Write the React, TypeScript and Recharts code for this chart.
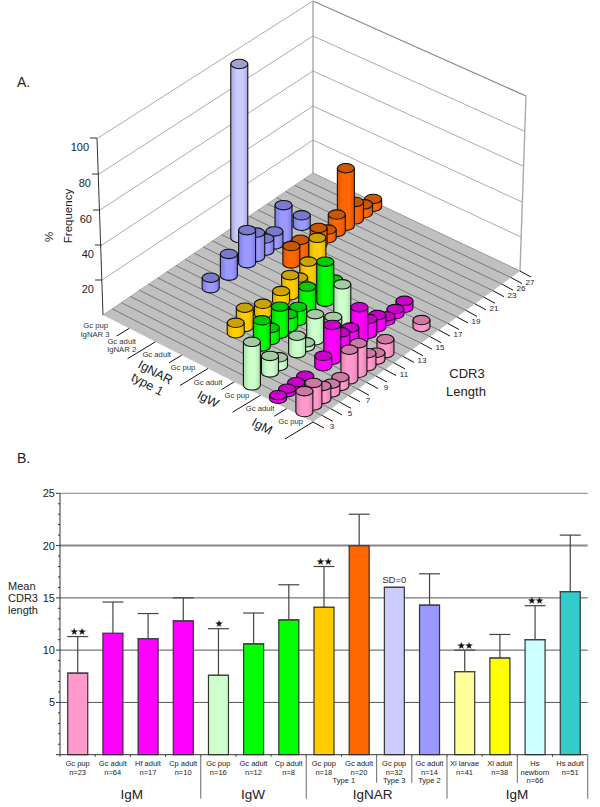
import React from "react";
import {
  ScatterChart, Scatter, ComposedChart, Bar, Cell, Line, ErrorBar,
  XAxis, YAxis, CartesianGrid,
} from "recharts";

// Panel A: CDR3 length distributions, one cdr/pct pair per row of the floor
const cdrCategories = [3, 4, 5, 6, 7, 8, 9, 10, 11, 12, 13, 14, 15, 16, 17, 18, 19, 20, 21, 22, 23, 26, 27];
const cdrTickLabels = ["3", "", "5", "", "7", "", "9", "", "11", "", "13", "", "15", "", "17", "", "19", "", "21", "", "23", "26", "27"];

const narPup3Cdr = [16];
const narPup3Pct = [100];
const nar2Cdr = [10, 12, 14, 15, 16, 17, 18, 20];
const nar2Pct = [6, 12.5, 19, 14, 7, 7.5, 19, 6];
const nar1AdultCdr = [16, 17, 19, 20, 21, 22, 23, 26, 27];
const nar1AdultPct = [10, 10, 9.5, 5, 10, 33, 10, 5, 4.5];
const nar1PupCdr = [7, 8, 10, 12, 13, 14, 15, 16];
const nar1PupPct = [6, 11, 6, 6, 11.5, 6.5, 12, 22];
const igwAdultCdr = [7, 8, 9, 10, 11, 12, 14, 15];
const igwAdultPct = [15, 7, 15.5, 7.5, 8, 16, 23, 9];
const igwPupCdr = [3, 5, 6, 8, 9, 10, 12, 13];
const igwPupPct = [25, 9.5, 5, 10, 2.5, 15, 6, 21];
const igmAdultCdr = [3, 4, 5, 6, 8, 9, 10, 11, 12, 13, 14, 15, 16, 17];
const igmAdultPct = [2, 2, 2, 2, 6, 20, 12, 11, 19, 8.5, 7, 2.5, 3, 4];
const igmPupCdr = [3, 4, 5, 6, 7, 8, 9, 10, 11, 12, 16];
const igmPupPct = [12, 13, 7.5, 5, 5, 17, 17, 7.5, 4, 8, 4];

const floorGroups = [
  { cdr: narPup3Cdr, pct: narPup3Pct, color: "#ccccff", top: "#9f9fd0", edge: "#a8a8e0" },
  { cdr: nar2Cdr, pct: nar2Pct, color: "#9999ff", top: "#7a7acc", edge: "#7c7ce0" },
  { cdr: nar1AdultCdr, pct: nar1AdultPct, color: "#ff6600", top: "#cc5500", edge: "#dd5500" },
  { cdr: nar1PupCdr, pct: nar1PupPct, color: "#ffcc00", top: "#cca300", edge: "#dcae00" },
  { cdr: igwAdultCdr, pct: igwAdultPct, color: "#00ff00", top: "#00cc00", edge: "#00d000" },
  { cdr: igwPupCdr, pct: igwPupPct, color: "#ccffcc", top: "#a3cca3", edge: "#a8dca8" },
  { cdr: igmAdultCdr, pct: igmAdultPct, color: "#ff00ff", top: "#cc00cc", edge: "#dd00dd" },
  { cdr: igmPupCdr, pct: igmPupPct, color: "#ff99cc", top: "#cc7aa3", edge: "#e080b0" },
];

// Panel B: means and upper error bar ends
const barIds = [0, 1, 2, 3, 4, 5, 6, 7, 8, 9, 10, 11, 12, 13, 14];
const barMeans = [7.8, 11.6, 11.1, 12.8, 7.6, 10.6, 12.9, 14.1, 20, 16, 14.3, 7.95, 9.25, 11, 15.6];
const barErrTops = [11.3, 14.6, 13.5, 15, 12.05, 13.55, 16.25, 18, 23, 16, 17.3, 10, 11.5, 14.25, 21];
const barColors = ["#ff99cc", "#ff00ff", "#ff00ff", "#ff00ff", "#ccffcc", "#00ff00", "#00ff00", "#ffcc00", "#ff6600", "#ccccff", "#9999ff", "#ffff99", "#ffff00", "#ccffff", "#33cccc"];
const barMarks = ["★★", "", "", "", "★", "", "", "★★", "", "SD=0", "", "★★", "", "★★", ""];
const barLabels = [
  ["Gc pup", "n=23"], ["Gc adult", "n=64"], ["Hf adult", "n=17"], ["Cp adult", "n=10"],
  ["Gc pup", "n=16"], ["Gc adult", "n=12"], ["Cp adult", "n=8"],
  ["Gc pup", "n=18"], ["Gc adult", "n=20"], ["Gc pup", "n=32", "Type 3"], ["Gc adult", "n=14", "Type 2"],
  ["Xl larvae", "n=41"], ["Xl adult", "n=38"], ["Hs", "newborn", "n=66"], ["Hs adult", "n=51"],
];
const dividerLeft = [0, 0, 0, 0, 44, 0, 0, 44, 0, 28, 28, 44, 0, 28, 0];
const yTicks = [0, 1, 2, 3, 4, 5, 6, 7, 8, 9, 10, 11, 12, 13, 14, 15, 16, 17, 18, 19, 20, 21, 22, 23, 24, 25];

const FONT = "'Liberation Sans', Arial, sans-serif";
const PX_PER_PCT = 1.74;
const RX = 8.5;
const RY = 4.7;

// floor projection: u runs back wall -> front, v runs CDR 3 -> CDR 27
function project(u: number, v: number) {
  const a = u / 8;
  const b = v / 23;
  const left = { x: 103 + (313 - 103) * a, y: 315 + (422 - 315) * a };
  const right = { x: 313 + (520 - 313) * a, y: 173 + (271 - 173) * a };
  return { x: left.x + (right.x - left.x) * b, y: left.y + (right.y - left.y) * b };
}

const cylinders = floorGroups
  .flatMap((g, gi) =>
    g.cdr.map((c, i) => {
      const p = project(gi + 0.5, cdrCategories.indexOf(c) + 0.5);
      return { px: p.x, py: p.y, pct: g.pct[i], group: gi };
    })
  )
  .sort((a, b) => a.py - b.py);

const barData = barIds.map((id) => ({
  id,
  mean: barMeans[id],
  errTop: barErrTops[id],
  errRange: [0, barErrTops[id] - barMeans[id]],
}));

const wallLines = [
  // left wall
  [98, 138, 313, 1], [99, 174, 313, 36], [100, 210, 313, 71], [102, 245, 313, 106], [102, 280, 313, 140],
  // right wall
  [313, 1, 526, 96], [313, 36, 524, 131], [313, 71, 523, 166], [313, 106, 522, 202], [313, 140, 521, 237],
];
const pctTicks = [
  { label: "100", x: 97, y: 138 }, { label: "80", x: 99, y: 174 }, { label: "60", x: 100, y: 210 },
  { label: "40", x: 102, y: 245 }, { label: "20", x: 102, y: 280 },
];
const groupTickLabels = [
  { x: 95.7, y: 326, t: "Gc pup" }, { x: 95, y: 335, t: "IgNAR 3" }, { x: 121.7, y: 342, t: "Gc adult" },
  { x: 121.7, y: 350, t: "IgNAR 2" }, { x: 156.7, y: 355, t: "Gc adult" }, { x: 183, y: 368, t: "Gc pup" },
  { x: 208, y: 383, t: "Gc adult" }, { x: 237, y: 396, t: "Gc pup" }, { x: 260, y: 409, t: "Gc adult" },
  { x: 290.7, y: 422, t: "Gc pup" },
];
const groupTitles = [
  { x: 155, y: 373, t: "IgNAR" }, { x: 147, y: 385, t: "type 1" }, { x: 207.7, y: 400, t: "IgW" }, { x: 261.7, y: 427, t: "IgM" },
];
const groupTickLen = [0, 0.45, 1, 0.45, 1, 0.45, 1, 0.45, 1];

// floor, walls, axes and their labels of the 3D panel
function Frame() {
  const corners = [project(0, 0), project(8, 0), project(8, 23), project(0, 23)];
  return (
    <g fontFamily={FONT}>
      <polygon points={corners.map((c) => `${c.x},${c.y}`).join(" ")} fill="#c0c0c0" />
      {wallLines.map((l, i) => (
        <line key={i} x1={l[0]} y1={l[1]} x2={l[2]} y2={l[3]} stroke={i === 5 ? "#888" : "#aaa"} strokeWidth={i === 5 ? 1.2 : 1} />
      ))}
      <line x1={313} y1={1} x2={313} y2={173} stroke="#999" strokeWidth={1.2} />
      <line x1={526} y1={96} x2={520} y2={271} stroke="#aaa" strokeWidth={1.4} />
      <line x1={313} y1={173} x2={520} y2={271} stroke="#999" />
      <line x1={313} y1={173} x2={103} y2={315} stroke="#aaa" />
      {cdrCategories.slice(1).map((c, i) => {
        const a = project(0, i + 1);
        const b = project(8, i + 1);
        return <line key={c} x1={a.x} y1={a.y} x2={b.x} y2={b.y} stroke="#666" strokeWidth={0.8} />;
      })}
      <line x1={97} y1={138} x2={103} y2={315} stroke="#333" />
      {pctTicks.map((t) => (
        <g key={t.label}>
          <line x1={t.x - 7} y1={t.y} x2={t.x} y2={t.y} stroke="#333" />
          <text x={t.x - 8} y={t.y + 13} fontSize={11} textAnchor="end" fill="#222">{t.label}</text>
        </g>
      ))}
      <text transform="translate(53,237) rotate(-90)" fontSize={11.5} textAnchor="middle" fill="#222">%</text>
      <text transform="translate(72,216) rotate(-90)" fontSize={11.5} textAnchor="middle" fill="#222">Frequency</text>
      {groupTickLen.map((len, i) => {
        if (!len) return null;
        const p = project(i, 0);
        return <line key={i} x1={p.x} y1={p.y} x2={p.x - 28 * len} y2={p.y + 17 * len} stroke="#111" />;
      })}
      {groupTickLabels.map((t, i) => (
        <text key={i} x={t.x} y={t.y} fontSize={7.7} textAnchor="middle" dominantBaseline="middle" fill="#333">{t.t}</text>
      ))}
      {groupTitles.map((t) => (
        <text key={t.t} transform={`translate(${t.x},${t.y}) rotate(28)`} fontSize={12.6} textAnchor="middle" dominantBaseline="middle" fill="#222">{t.t}</text>
      ))}
      {[...cdrCategories, 0].map((_, i) => {
        const p = project(8, i);
        return <line key={i} x1={p.x} y1={p.y} x2={p.x + 11} y2={p.y + 6} stroke="#111" />;
      })}
      {cdrTickLabels.map((t, i) => {
        const p = project(8, i);
        return <text key={i} x={p.x + 19} y={p.y + 5} fontSize={8} textAnchor="middle" dominantBaseline="middle" fill="#222">{t}</text>;
      })}
      <text x={467} y={378} fontSize={13} textAnchor="middle" fill="#222">CDR3</text>
      <text x={466} y={396} fontSize={13} textAnchor="middle" fill="#222">Length</text>
    </g>
  );
}

function Cylinder(props: any) {
  const { cx, cy, payload } = props;
  const g = floorGroups[payload.group];
  const h = payload.pct * PX_PER_PCT;
  const top = cy - h;
  const side = `M${cx - RX},${top} L${cx - RX},${cy} A${RX},${RY} 0 0 0 ${cx + RX},${cy} L${cx + RX},${top} Z`;
  return (
    <g stroke="#111" strokeWidth={1.1}>
      <path d={side} fill={`url(#cyl-${payload.group})`} />
      <ellipse cx={cx} cy={top} rx={RX} ry={RY} fill={g.top} />
    </g>
  );
}

function YTick({ x, y, payload }: any) {
  const major = payload.value % 5 === 0;
  return (
    <g>
      <line x1={x - (major ? 4 : 2)} y1={y} x2={x} y2={y} stroke="#333" />
      {major && payload.value > 0 && (
        <text x={x - 5} y={y + 4} fontSize={11} textAnchor="end" fill="#222" fontFamily={FONT}>{payload.value}</text>
      )}
    </g>
  );
}

const STEP = 35.17;

function XTick({ x, y, payload }: any) {
  const i = payload.value;
  const div = dividerLeft[i];
  return (
    <g fontFamily={FONT} fontSize={7.5} fill="#222" textAnchor="middle">
      <line x1={x - STEP / 2} y1={y} x2={x - STEP / 2} y2={y + 2} stroke="#333" />
      {div > 0 && <line x1={x - STEP / 2} y1={y} x2={x - STEP / 2} y2={y + div} stroke="#777" strokeWidth={1.1} />}
      {i === 14 && <line x1={x + STEP / 2} y1={y} x2={x + STEP / 2} y2={y + 44} stroke="#777" strokeWidth={1.1} />}
      {barLabels[i].map((t, k) => (
        <text key={k} x={x} y={y + 11.5 + k * 8.3}>{t}</text>
      ))}
      {i === 7 && <text x={x + 20} y={y + 28}>Type 1</text>}
    </g>
  );
}

function MarkDot({ cx, cy, index }: any) {
  const m = barMarks[index];
  if (!m) return <g key={index} />;
  if (m === "SD=0")
    return <text key={index} x={cx} y={cy - 4} fontSize={9.5} textAnchor="middle" fill="#333" fontFamily={FONT}>{m}</text>;
  return <text key={index} x={cx} y={cy - 1.5} fontSize={10} letterSpacing={-1.2} textAnchor="middle" fill="#111" fontFamily="'DejaVu Sans'">{m}</text>;
}

const abs = (left: number, top: number, size: number, extra: any = {}) => ({
  position: "absolute" as const, left, top, fontSize: size, lineHeight: 1, color: "#222", ...extra,
});

export default function App() {
  return (
    <div style={{ position: "absolute", left: 0, top: 0, width: 600, height: 807, background: "#fff", fontFamily: FONT, overflow: "hidden" }}>
      <div style={abs(17, 75, 14)}>A.</div>
      <div style={abs(17, 451, 14)}>B.</div>

      <div style={{ position: "absolute", left: 0, top: 0 }}>
        <ScatterChart width={600} height={470} margin={{ top: 0, right: 0, bottom: 0, left: 0 }}>
          <defs>
            {floorGroups.map((g, i) => (
              <linearGradient key={i} id={`cyl-${i}`} x1="0" y1="0" x2="1" y2="0">
                <stop offset="0%" stopColor={g.edge} />
                <stop offset="35%" stopColor={g.color} />
                <stop offset="70%" stopColor={g.color} />
                <stop offset="100%" stopColor={g.edge} />
              </linearGradient>
            ))}
          </defs>
          <XAxis type="number" dataKey="px" domain={[0, 600]} hide />
          <YAxis type="number" dataKey="py" domain={[0, 470]} reversed hide />
          <Scatter data={[{ px: 0, py: 0 }]} shape={<Frame />} isAnimationActive={false} />
          <Scatter data={cylinders} shape={<Cylinder />} isAnimationActive={false} />
        </ScatterChart>
      </div>

      <div style={{ position: "absolute", left: 0, top: 480 }}>
        <ComposedChart width={600} height={327} data={barData} barCategoryGap="22%" margin={{ top: 13.3, right: 12.3, bottom: 0, left: 0 }}>
          <CartesianGrid vertical={false} horizontalValues={[5, 10, 15]} stroke="#555" />
          <CartesianGrid vertical={false} horizontalValues={[20]} stroke="#888" strokeWidth={2} />
          <CartesianGrid vertical={false} horizontalValues={[25]} stroke="#999" strokeWidth={1.2} />
          <XAxis dataKey="id" height={52.3} interval={0} tickLine={false} tickSize={0} tickMargin={0} stroke="#333" tick={<XTick />} />
          <YAxis width={60} domain={[0, 25]} ticks={yTicks} interval={0} tickLine={false} tickSize={0} tickMargin={0} stroke="#333" tick={<YTick />} />
          <Bar dataKey="mean" stroke="#333" strokeWidth={1.2} isAnimationActive={false}>
            {barData.map((d) => (
              <Cell key={d.id} fill={barColors[d.id]} />
            ))}
            <ErrorBar dataKey="errRange" width={10.5} stroke="#444" strokeWidth={1.2} isAnimationActive={false} />
          </Bar>
          <Line dataKey="errTop" stroke="none" dot={<MarkDot />} activeDot={false} isAnimationActive={false} />
        </ComposedChart>
      </div>

      <div style={abs(8, 581, 11)}>Mean</div>
      <div style={abs(8, 593, 11)}>CDR3</div>
      <div style={abs(8, 605, 11)}>length</div>
      <div style={abs(131.7, 788, 13.5, { transform: "translateX(-50%)" })}>IgM</div>
      <div style={abs(253, 788, 13.5, { transform: "translateX(-50%)" })}>IgW</div>
      <div style={abs(372.7, 788, 13.5, { transform: "translateX(-50%)" })}>IgNAR</div>
      <div style={abs(517, 788, 13.5, { transform: "translateX(-50%)" })}>IgM</div>
    </div>
  );
}
